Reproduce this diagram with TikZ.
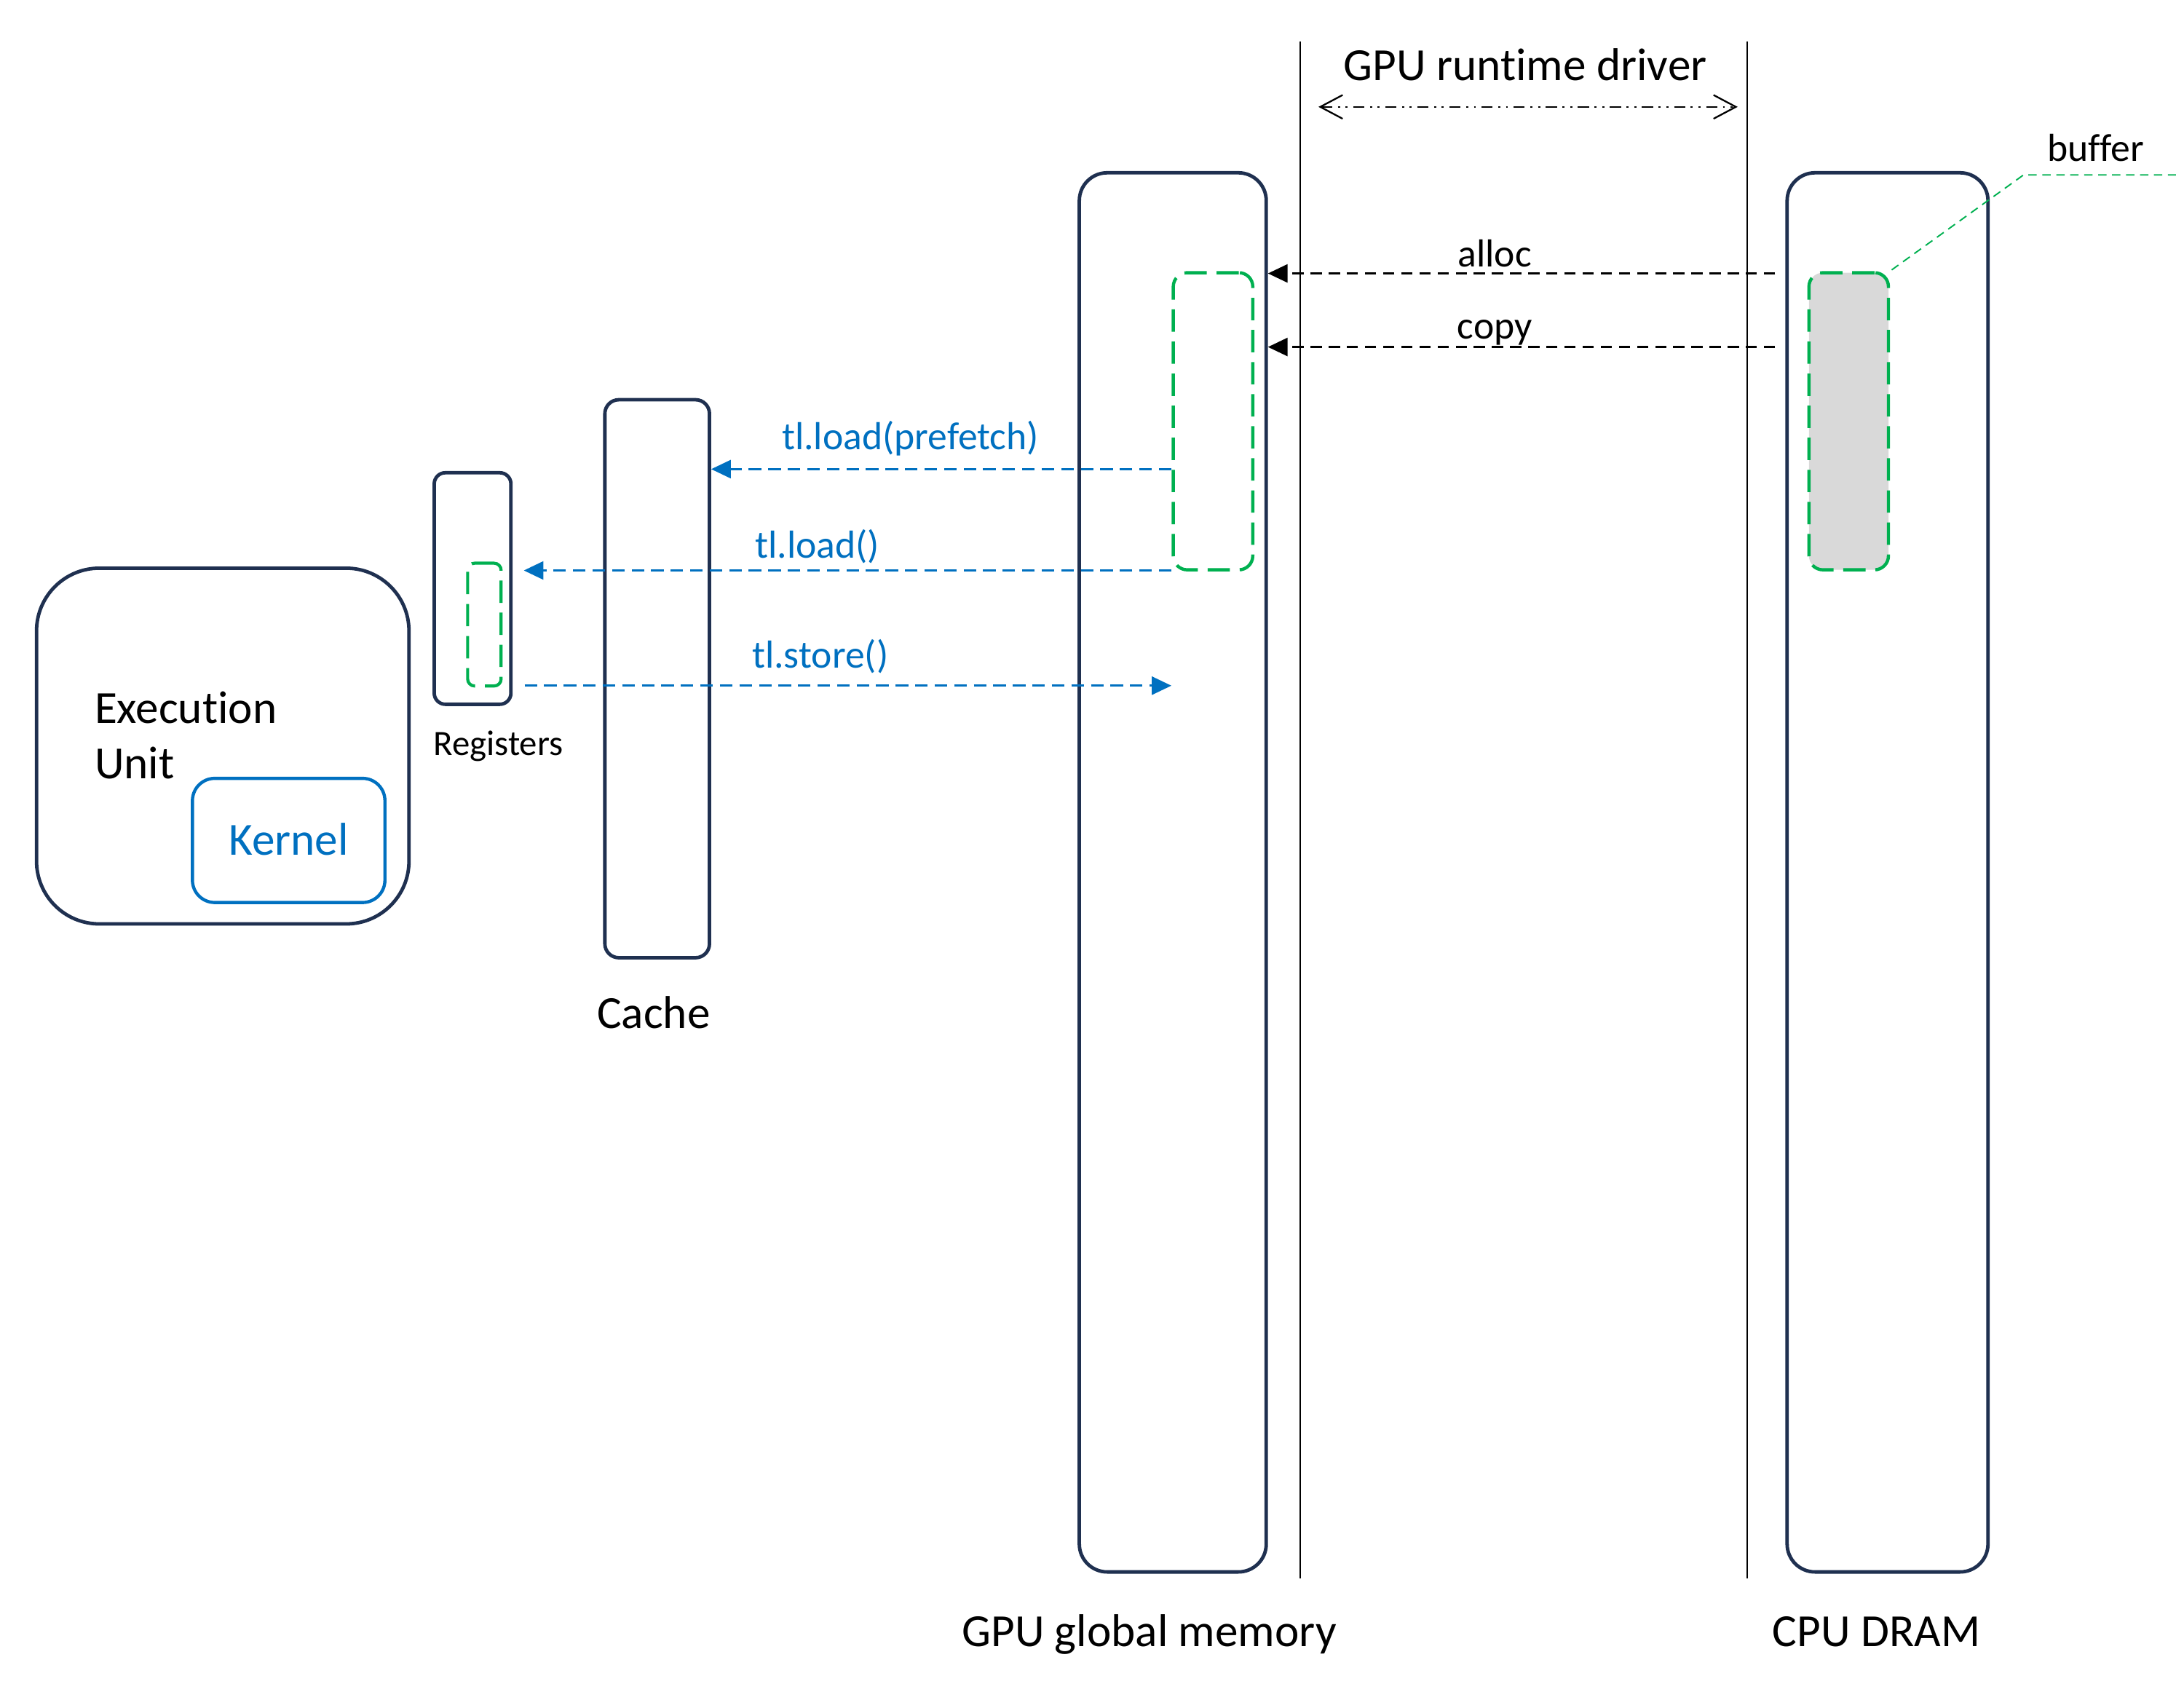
\documentclass[tikz,border=0pt]{standalone}
\usepackage{fontspec}
\setmainfont{Carlito}[Ligatures=NoCommon]
\usetikzlibrary{arrows.meta}
\definecolor{navy}{HTML}{1F3050}
\definecolor{grn}{HTML}{00B050}
\definecolor{blu}{HTML}{0070C0}
\definecolor{gry}{HTML}{D9D9D9}
\tikzset{
  membox/.style={draw=navy, line width=2.5pt, inner sep=0pt},
  gbox/.style={draw=grn, line width=2.3pt, dash pattern=on 16pt off 7pt, inner sep=0pt},
  big/.style={font=\fontsize{33}{40}\selectfont, inner sep=0pt, anchor=base},
  small/.style={font=\fontsize{28}{34}\selectfont, inner sep=0pt, anchor=base},
  blarrow/.style={draw=blu, line width=1.4pt, dash pattern=on 9pt off 5pt, -{Triangle[length=14pt,width=13pt]}},
  bkarrow/.style={draw=black, line width=1.3pt, dash pattern=on 8pt off 5pt, -{Triangle[length=14pt,width=13pt]}},
}
\begin{document}
\begin{tikzpicture}[x=0.995pt,y=-0.995pt, every node/.append style={transform shape}]
\useasboundingbox (0,0) rectangle (1567.84,1230.15);
% separators
\coordinate (l1t) at (937,30); \coordinate (l1b) at (937,1137);
\coordinate (l2t) at (1259,30); \coordinate (l2b) at (1259,1137);
\draw[line width=1.1pt] (l1t) -- (l1b);
\draw[line width=1.1pt] (l2t) -- (l2b);
\node[big] (drv) at (1099,58) {GPU runtime driver};
\coordinate (da) at (950,77); \coordinate (db) at (1252,77);
\draw[line width=1.2pt, dash pattern=on 8pt off 4pt on 1.5pt off 4pt on 1.5pt off 4pt, {Straight Barb[length=16pt,width=17pt]}-{Straight Barb[length=16pt,width=17pt]}] (da) -- (db);
% memories
\node[membox, rounded corners=20pt, minimum width=134pt, minimum height=1003pt] (gpu) at (845,628.5) {};
\node[membox, rounded corners=20pt, minimum width=144pt, minimum height=1003pt] (dram) at (1360,628.5) {};
\node[gbox, rounded corners=10pt, minimum width=57pt, minimum height=213pt] (gbuf) at (874,303.5) {};
\node[gbox, fill=gry, rounded corners=10pt, minimum width=57pt, minimum height=213pt] (cbuf) at (1332,303.5) {};
\node[membox, rounded corners=10pt, minimum width=75pt, minimum height=400pt] (cache) at (473.5,489) {};
\node[membox, rounded corners=8pt, minimum width=55pt, minimum height=166pt] (reg) at (340.5,424) {};
\node[gbox, line width=2.2pt, rounded corners=5pt, minimum width=24pt, minimum height=88pt] (rbuf) at (349,450) {};
\node[membox, rounded corners=45pt, minimum width=267pt, minimum height=255pt] (eu) at (160.5,537.5) {};
\node[draw=blu, line width=2.3pt, rounded corners=16pt, minimum width=138pt, minimum height=89pt, inner sep=0pt] (kern) at (208,605.5) {};
% labels
\node[big, anchor=base west] (exe) at (68,521) {Execution};
\node[big, anchor=base west] (unit) at (68,561) {Unit};
\node[big, text=blu] (klab) at (208,616) {Kernel};
\node[font=\fontsize{25.5}{30}\selectfont, inner sep=0pt, anchor=base] (rlab) at (359,544) {Registers};
\node[big] (clab) at (471,741) {Cache};
\node[big] (glab) at (828,1186) {GPU global memory};
\node[big] (dlab) at (1352,1186) {CPU DRAM};
% buffer leader
\node[small] (bufl) at (1510,116) {buffer};
\coordinate (ldr0) at (1568,126);
\coordinate (ldr1) at (1458,126);
\draw[grn, line width=1pt, dash pattern=on 6pt off 4pt] (ldr0) -- (ldr1) -- (cbuf.north east);
% driver arrows
\coordinate (al) at (1279,197);
\coordinate (cp) at (1279,250);
\draw[bkarrow] (al) -- (gpu.east |- al);
\draw[bkarrow] (cp) -- (gpu.east |- cp);
\node[small] (allab) at (1077,192) {alloc};
\node[small] (cplab) at (1077,244) {copy};
% triton arrows
\coordinate (pf) at (844,338);
\coordinate (ld) at (844,411);
\coordinate (stA) at (378,494);
\coordinate (stB) at (844,494);
\draw[blarrow] (pf) -- (cache.east |- pf);
\draw[blarrow] (ld) -- ([xshift=8pt]reg.east |- ld);
\draw[blarrow] (stA) -- (stB);
\node[small, text=blu] (pflab) at (656,324) {tl.load(prefetch)};
\node[small, text=blu] (ldlab) at (589,402) {tl.load()};
\node[small, text=blu] (stlab) at (591,481) {tl.store()};
\end{tikzpicture}
\end{document}
